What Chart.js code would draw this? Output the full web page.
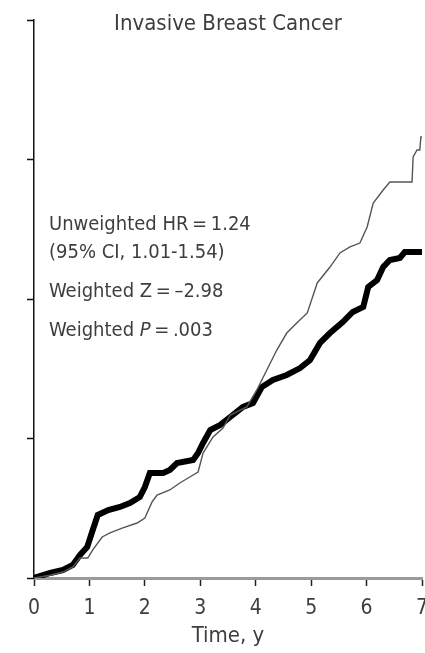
<!DOCTYPE html>
<html>
<head>
<meta charset="utf-8">
<script src="https://cdn.jsdelivr.net/npm/chart.js@4.4.1/dist/chart.umd.min.js"></script>
<style>
  html, body { margin: 0; padding: 0; background: #fff; }
  #wrap { width: 425px; height: 653px; position: relative; }
</style>
</head>
<body>
<div id="wrap"><canvas id="ibcChart"></canvas></div>
<script>
// time in years, cumulative values (y axis unlabelled, 4 ticks)
const thinTime  = [0, 0.29, 0.52, 0.70, 0.83, 0.97, 1.06, 1.23, 1.37, 1.59, 1.86, 2.00, 2.13, 2.22, 2.45, 2.63, 2.81, 2.96, 3.05, 3.23, 3.41, 3.54, 3.84, 4.02, 4.20, 4.38, 4.56, 4.74, 4.93, 5.11, 5.34, 5.52, 5.70, 5.88, 6.01, 6.12, 6.30, 6.42, 6.82, 6.84, 6.91, 6.96, 6.98, 7.0];
const thinValue = [0, 0.02, 0.043, 0.079, 0.143, 0.143, 0.201, 0.294, 0.323, 0.358, 0.394, 0.430, 0.545, 0.595, 0.631, 0.681, 0.724, 0.760, 0.896, 1.011, 1.075, 1.168, 1.226, 1.348, 1.491, 1.634, 1.756, 1.828, 1.900, 2.115, 2.229, 2.330, 2.373, 2.401, 2.516, 2.688, 2.781, 2.839, 2.839, 3.018, 3.068, 3.068, 3.161, 3.161];

const thickTime  = [0, 0.29, 0.52, 0.70, 0.83, 0.96, 1.06, 1.15, 1.34, 1.55, 1.73, 1.91, 2.00, 2.09, 2.33, 2.45, 2.58, 2.87, 2.96, 3.05, 3.18, 3.36, 3.54, 3.77, 3.95, 4.11, 4.31, 4.56, 4.80, 4.98, 5.16, 5.34, 5.57, 5.75, 5.94, 6.03, 6.19, 6.30, 6.42, 6.60, 6.69, 7.0];
const thickValue = [0, 0.036, 0.057, 0.093, 0.165, 0.222, 0.344, 0.452, 0.487, 0.509, 0.538, 0.581, 0.652, 0.753, 0.753, 0.774, 0.824, 0.846, 0.896, 0.968, 1.061, 1.097, 1.154, 1.226, 1.254, 1.369, 1.419, 1.455, 1.505, 1.563, 1.685, 1.756, 1.835, 1.907, 1.943, 2.086, 2.136, 2.229, 2.280, 2.294, 2.337, 2.337];

const xTicks = [0, 1, 2, 3, 4, 5, 6, 7];
const yTicks = [0, 1, 2, 3, 4];

const FONT = "'Liberation Sans Narrow', 'Arial Narrow', 'DejaVu Sans Condensed', sans-serif";
const TEXT_COLOR = '#3e3e3e';

function toPoints(xs, ys) {
    return xs.map((x, i) => ({ x: x, y: ys[i] }));
}

// title and the statistics block drawn as text on top of the plot
const textPlugin = {
    id: 'textBlock',
    afterDraw(chart) {
        const ctx = chart.ctx;
        const area = chart.chartArea;
        ctx.save();
        ctx.fillStyle = TEXT_COLOR;
        ctx.textBaseline = 'alphabetic';

        ctx.font = '22px ' + FONT;
        ctx.textAlign = 'center';
        ctx.fillText('Invasive Breast Cancer', (area.left + area.right) / 2, 30);

        ctx.textAlign = 'left';
        ctx.font = '20px ' + FONT;
        const x0 = 49;
        ctx.fillText('Unweighted HR\u2009=\u20091.24', x0, 230);
        ctx.fillText('(95% CI, 1.01-1.54)', x0, 258);
        ctx.fillText('Weighted Z\u2009=\u2009\u20132.98', x0, 297);

        // "Weighted P = .003" with italic P
        let x = x0;
        const a = 'Weighted ';
        ctx.fillText(a, x, 336);
        x += ctx.measureText(a).width;
        ctx.font = 'italic 20px ' + FONT;
        ctx.fillText('P', x, 336);
        x += ctx.measureText('P').width;
        ctx.font = '20px ' + FONT;
        ctx.fillText('\u2009=\u2009.003', x, 336);
        ctx.restore();
    }
};

const ctx = document.getElementById('ibcChart').getContext('2d');
const ibcChart = new Chart(ctx, {
    type: 'line',
    data: {
        datasets: [{
            label: 'Thin',
            data: toPoints(thinTime, thinValue),
            borderColor: '#555',
            borderWidth: 1.4,
            pointRadius: 0,
            tension: 0,
            fill: false
        }, {
            label: 'Thick',
            data: toPoints(thickTime, thickValue),
            borderColor: '#000',
            borderWidth: 6,
            pointRadius: 0,
            tension: 0,
            fill: false,
            borderJoinStyle: 'miter'
        }]
    },
    options: {
        responsive: true,
        maintainAspectRatio: false,
        animation: false,
        layout: {
            padding: { left: 27, right: 3, top: 20, bottom: 0 }
        },
        scales: {
            x: {
                type: 'linear',
                min: xTicks[0],
                max: xTicks[xTicks.length - 1],
                afterBuildTicks: s => { s.ticks = xTicks.map(v => ({ value: v })); },
                afterFit: s => { s.height = 75; s.paddingLeft = 0; s.paddingRight = 0; },
                grid: {
                    drawOnChartArea: false,
                    tickLength: 8,
                    tickColor: '#222',
                    tickWidth: 1.5
                },
                border: { color: '#9a9a9a', width: 3 },
                ticks: {
                    color: TEXT_COLOR,
                    font: { family: FONT, size: 21 },
                    padding: 10,
                    maxRotation: 0,
                    autoSkip: false
                },
                title: {
                    display: true,
                    text: 'Time, y',
                    color: TEXT_COLOR,
                    font: { family: FONT, size: 22 },
                    padding: { top: 0, bottom: 4 }
                }
            },
            y: {
                min: yTicks[0],
                max: yTicks[yTicks.length - 1],
                afterBuildTicks: s => { s.ticks = yTicks.map(v => ({ value: v })); },
                afterFit: s => { s.width = 7; },
                grid: {
                    drawOnChartArea: false,
                    tickLength: 7,
                    tickColor: '#111',
                    tickWidth: 1.5
                },
                border: { color: '#111', width: 1.5 },
                ticks: { display: false }
            }
        },
        plugins: {
            legend: { display: false },
            tooltip: { enabled: false },
            title: { display: false }
        }
    },
    plugins: [textPlugin]
});
</script>
</body>
</html>
